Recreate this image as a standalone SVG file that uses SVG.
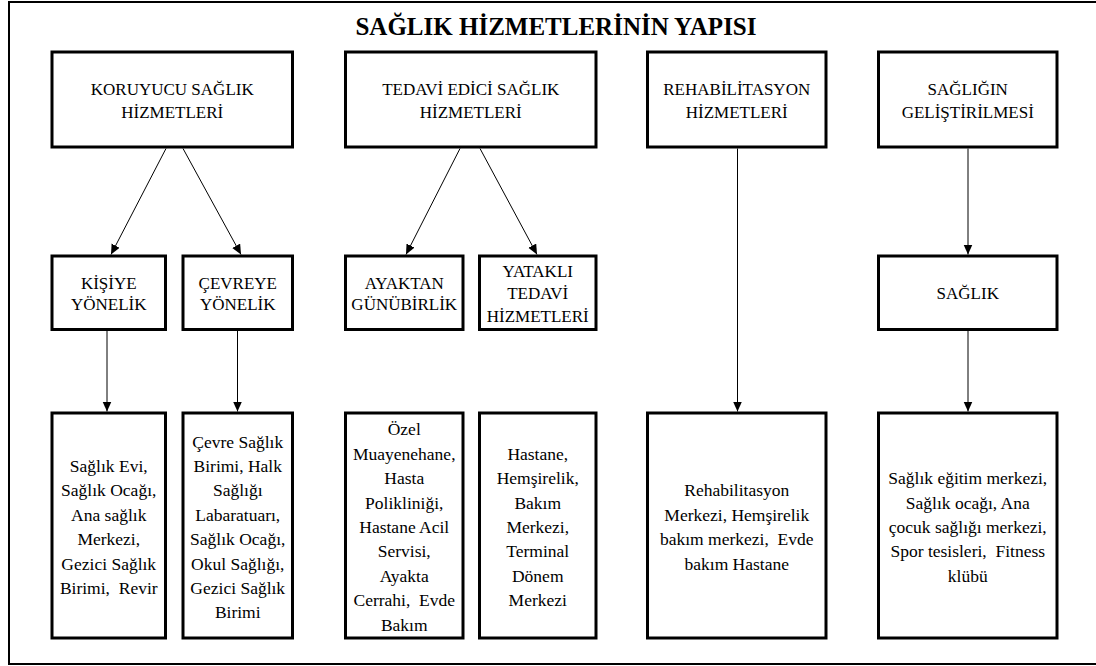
<svg xmlns="http://www.w3.org/2000/svg" width="1096" height="666" viewBox="0 0 1096 666">
  <defs>
    <style>
      .frame { fill: none; stroke: #000; stroke-width: 2; }
      .box { fill: #fff; stroke: #000; stroke-width: 3; }
      .lbl { font-family: "Liberation Serif", "Times New Roman", serif; font-size: 17px; text-anchor: middle; fill: #000; }
      .small { font-size: 17.5px; }
      .title { font-family: "Liberation Serif", "Times New Roman", serif; font-size: 25px; font-weight: bold; text-anchor: middle; fill: #000; }
      .conn { fill: none; stroke: #000; stroke-width: 1; marker-end: url(#arr); }
    </style>
    <marker id="arr" markerUnits="userSpaceOnUse" markerWidth="10" markerHeight="10" refX="10" refY="4.5" orient="auto">
      <path d="M0,0 L10,4.5 L0,9 Z" fill="#000"/>
    </marker>
  </defs>

  <rect width="1096" height="666" fill="#fff"/>

  <!-- page frame (open on the right) -->
  <path class="frame" d="M1096,2 H9 V664 H1096"/>

  <text class="title" x="556" y="35">SAĞLIK HİZMETLERİNİN YAPISI</text>

  <!-- connectors -->
  <g id="connectors">
    <path class="conn" d="M166,148.5 L111,254.5"/>
    <path class="conn" d="M183,148.5 L241,254.5"/>
    <path class="conn" d="M460,148.5 L406,254.5"/>
    <path class="conn" d="M480,148.5 L537,254.5"/>
    <path class="conn" d="M737.5,148.5 V411.5"/>
    <path class="conn" d="M968,148.5 V254.5"/>
    <path class="conn" d="M968,331 V411.5"/>
    <path class="conn" d="M107,331 V411.5"/>
    <path class="conn" d="M237.5,331 V411.5"/>
  </g>

  <!-- top level -->
  <g id="koruyucu">
    <rect class="box" x="52" y="52" width="240.5" height="95"/>
    <text class="lbl" x="172.25" y="95">KORUYUCU SAĞLIK<tspan x="172.25" dy="23">HİZMETLERİ</tspan></text>
  </g>
  <g id="tedavi">
    <rect class="box" x="345.5" y="52" width="250.5" height="95"/>
    <text class="lbl" x="470.75" y="95">TEDAVİ EDİCİ SAĞLIK<tspan x="470.75" dy="23">HİZMETLERİ</tspan></text>
  </g>
  <g id="rehabilitasyon">
    <rect class="box" x="647.5" y="52" width="178.5" height="95"/>
    <text class="lbl" x="736.75" y="95">REHABİLİTASYON<tspan x="736.75" dy="23">HİZMETLERİ</tspan></text>
  </g>
  <g id="gelistirme">
    <rect class="box" x="878.5" y="52" width="178.5" height="95"/>
    <text class="lbl" x="967.75" y="95">SAĞLIĞIN<tspan x="967.75" dy="23">GELİŞTİRİLMESİ</tspan></text>
  </g>

  <!-- second level -->
  <g id="kisiye">
    <rect class="box" x="52" y="256" width="113.5" height="73.5"/>
    <text class="lbl" x="108.75" y="289">KİŞİYE<tspan x="108.75" dy="21">YÖNELİK</tspan></text>
  </g>
  <g id="cevreye">
    <rect class="box" x="183" y="256" width="109.5" height="73.5"/>
    <text class="lbl" x="237.75" y="289">ÇEVREYE<tspan x="237.75" dy="21">YÖNELİK</tspan></text>
  </g>
  <g id="ayaktan">
    <rect class="box" x="345.5" y="256" width="117.5" height="73.5"/>
    <text class="lbl" x="404.25" y="289">AYAKTAN<tspan x="404.25" dy="21">GÜNÜBİRLİK</tspan></text>
  </g>
  <g id="yatakli">
    <rect class="box" x="479.5" y="256" width="116.5" height="73.5"/>
    <text class="lbl" x="537.75" y="276.5">YATAKLI<tspan x="537.75" dy="22.5">TEDAVİ</tspan><tspan x="537.75" dy="22.5">HİZMETLERİ</tspan></text>
  </g>
  <g id="saglik">
    <rect class="box" x="878.5" y="256" width="178.5" height="73.5"/>
    <text class="lbl" x="967.75" y="298.5">SAĞLIK</text>
  </g>

  <!-- third level -->
  <g id="kurum-kisiye">
    <rect class="box" x="52" y="413" width="113.5" height="225"/>
    <text class="lbl small" x="108.75" y="472">Sağlık Evi,<tspan x="108.75" dy="24.4">Sağlık Ocağı,</tspan><tspan x="108.75" dy="24.4">Ana sağlık</tspan><tspan x="108.75" dy="24.4">Merkezi,</tspan><tspan x="108.75" dy="24.4">Gezici Sağlık</tspan><tspan x="108.75" dy="24.4">Birimi,&#160; Revir</tspan></text>
  </g>
  <g id="kurum-cevre">
    <rect class="box" x="183" y="413" width="109.5" height="225"/>
    <text class="lbl small" x="237.75" y="447.6">Çevre Sağlık<tspan x="237.75" dy="24.4">Birimi, Halk</tspan><tspan x="237.75" dy="24.4">Sağlığı</tspan><tspan x="237.75" dy="24.4">Labaratuarı,</tspan><tspan x="237.75" dy="24.4">Sağlık Ocağı,</tspan><tspan x="237.75" dy="24.4">Okul Sağlığı,</tspan><tspan x="237.75" dy="24.4">Gezici Sağlık</tspan><tspan x="237.75" dy="24.4">Birimi</tspan></text>
  </g>
  <g id="kurum-ayaktan">
    <rect class="box" x="345.5" y="413" width="117.5" height="225"/>
    <text class="lbl small" x="404.25" y="435.4">Özel<tspan x="404.25" dy="24.4">Muayenehane,</tspan><tspan x="404.25" dy="24.4">Hasta</tspan><tspan x="404.25" dy="24.4">Polikliniği,</tspan><tspan x="404.25" dy="24.4">Hastane Acil</tspan><tspan x="404.25" dy="24.4">Servisi,</tspan><tspan x="404.25" dy="24.4">Ayakta</tspan><tspan x="404.25" dy="24.4">Cerrahi,&#160; Evde</tspan><tspan x="404.25" dy="24.4">Bakım</tspan></text>
  </g>
  <g id="kurum-yatakli">
    <rect class="box" x="479.5" y="413" width="116.5" height="225"/>
    <text class="lbl small" x="537.75" y="459.8">Hastane,<tspan x="537.75" dy="24.4">Hemşirelik,</tspan><tspan x="537.75" dy="24.4">Bakım</tspan><tspan x="537.75" dy="24.4">Merkezi,</tspan><tspan x="537.75" dy="24.4">Terminal</tspan><tspan x="537.75" dy="24.4">Dönem</tspan><tspan x="537.75" dy="24.4">Merkezi</tspan></text>
  </g>
  <g id="kurum-rehabilitasyon">
    <rect class="box" x="647.5" y="413" width="178.5" height="225"/>
    <text class="lbl small" x="736.75" y="496.4">Rehabilitasyon<tspan x="736.75" dy="24.4">Merkezi, Hemşirelik</tspan><tspan x="736.75" dy="24.4">bakım merkezi,&#160; Evde</tspan><tspan x="736.75" dy="24.4">bakım Hastane</tspan></text>
  </g>
  <g id="kurum-gelistirme">
    <rect class="box" x="878.5" y="413" width="178.5" height="225"/>
    <text class="lbl small" x="967.75" y="484.2">Sağlık eğitim merkezi,<tspan x="967.75" dy="24.4">Sağlık ocağı, Ana</tspan><tspan x="967.75" dy="24.4">çocuk sağlığı merkezi,</tspan><tspan x="967.75" dy="24.4">Spor tesisleri,&#160; Fitness</tspan><tspan x="967.75" dy="24.4">klübü</tspan></text>
  </g>
</svg>
